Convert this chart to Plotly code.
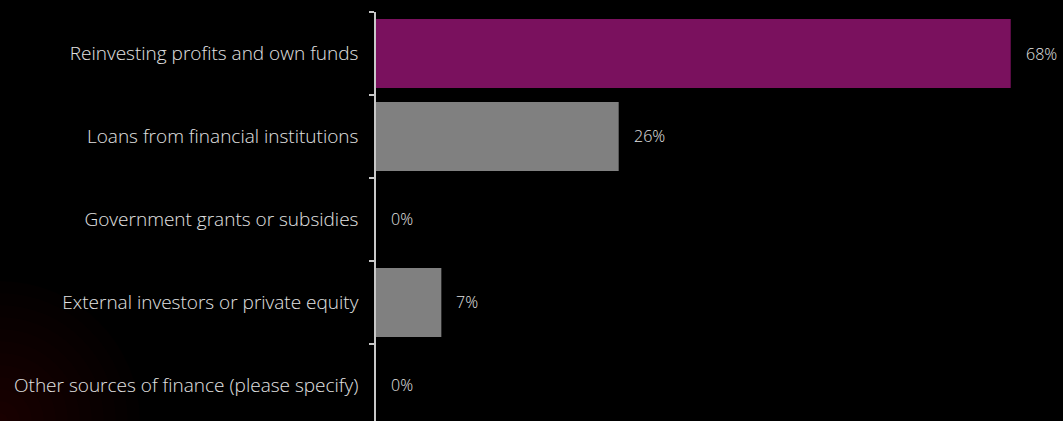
import plotly.graph_objects as go

# Survey: sources of finance used by respondents
categories = [
    "Reinvesting profits and own funds",
    "Loans from financial institutions",
    "Government grants or subsidies",
    "External investors or private equity",
    "Other sources of finance (please specify)",
]
shares = [68, 26, 0, 7, 0]
bar_colors = ["#7a115e", "#808080", "#808080", "#808080", "#808080"]

W, H = 1063, 421
LEFT, TOP = 376, 12
TEXT = "#e2e2e2"
FONT = "Open Sans"

fig = go.Figure(
    go.Bar(
        x=shares,
        y=categories,
        orientation="h",
        marker=dict(color=bar_colors, line=dict(width=0)),
        width=0.83,
        hoverinfo="skip",
    )
)

# value labels just to the right of each bar
for cat, v in zip(categories, shares):
    fig.add_annotation(
        x=v, y=cat, text=f"{v}%", showarrow=False,
        xanchor="left", xshift=13, yanchor="middle",
        font=dict(family=FONT, size=16, color=TEXT, weight=300),
    )

# faint red glow in the lower-left corner
plot_w = W - LEFT
corner_x = -LEFT / plot_w
for r in range(140, 0, -12):
    fig.add_shape(
        type="circle", xref="paper", yref="paper",
        xsizemode="pixel", ysizemode="pixel",
        xanchor=corner_x, yanchor=0,
        x0=-r, x1=r, y0=-r, y1=r,
        fillcolor="rgba(130,10,10,0.025)", line=dict(width=0),
        layer="below",
    )

fig.update_layout(
    width=W, height=H,
    margin=dict(l=LEFT, r=0, t=TOP, b=0, pad=0),
    paper_bgcolor="#000000", plot_bgcolor="rgba(0,0,0,0)",
    showlegend=False,
    font=dict(family=FONT, size=19, color=TEXT, weight=300),
    xaxis=dict(
        range=[0, 73.6], visible=False, showgrid=False, zeroline=False,
    ),
    yaxis=dict(
        categoryorder="array", categoryarray=categories,
        autorange=False, range=[4.428, -0.5],
        showline=True, linecolor="#c8c8c8", linewidth=1.5,
        ticks="outside", tickson="boundaries", ticklen=5,
        tickcolor="#c8c8c8", tickwidth=1.5,
        showgrid=False, zeroline=False, automargin=False,
        ticklabelstandoff=12,
        tickfont=dict(family=FONT, size=19, color=TEXT, weight=300),
    ),
)

fig.write_html("out.html")
